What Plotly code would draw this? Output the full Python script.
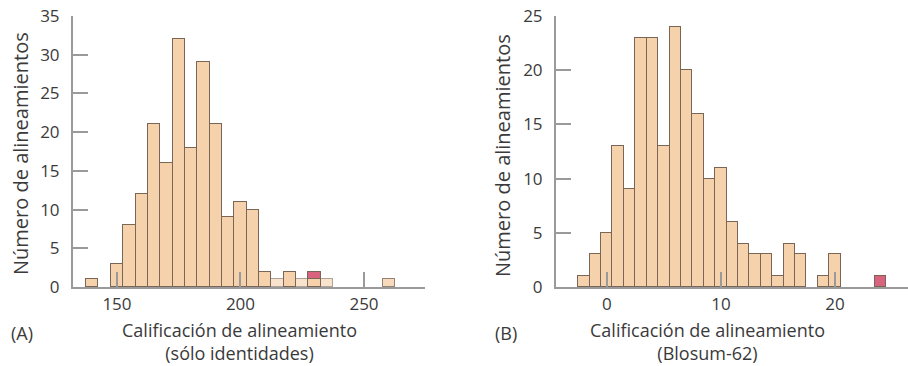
import plotly.graph_objects as go

# Panel A: alignment score (identities only), bin width 5
a_bins = [140, 150, 155, 160, 165, 170, 175, 180, 185, 190, 195, 200, 205, 210, 215, 220, 225, 230, 235, 260]
a_counts = [1, 3, 8, 12, 21, 16, 32, 18, 29, 21, 9, 11, 10, 2, 1, 2, 1, 1, 1, 1]
a_opacity = [1, 1, 1, 1, 1, 1, 1, 1, 1, 1, 1, 1, 1, 1, 0.6, 1, 0.6, 1, 0.6, 0.8]
a_real_bins = [230]
a_real_counts = [1]

# Panel B: alignment score (Blosum-62), bin width 1
b_bins = [-2, -1, 0, 1, 2, 3, 4, 5, 6, 7, 8, 9, 10, 11, 12, 13, 14, 15, 16, 17, 19, 20]
b_counts = [1, 3, 5, 13, 9, 23, 23, 13, 24, 20, 16, 10, 11, 6, 4, 3, 3, 1, 4, 3, 1, 3]
b_real_bins = [24]
b_real_counts = [1]

a_yticks = [0, 5, 10, 15, 20, 25, 30, 35]
a_xticks = [150, 200, 250]
b_yticks = [0, 5, 10, 15, 20, 25]
b_xticks = [0, 10, 20]

FILL = "#F6D2AC"
EDGE = "#7a6656"
PINK = "#D9637E"
AXIS = "#9a9a9a"
TXT = "#3a3a3a"
FONT = "Open Sans"
W, H = 908, 366

def px(x):
    return x / W

def py(y):
    return 1 - y / H

fig = go.Figure()
fig.add_trace(go.Bar(x=a_bins, y=a_counts, width=5, xaxis="x", yaxis="y",
                     marker=dict(color=FILL, opacity=a_opacity, line=dict(color=EDGE, width=1))))
fig.add_trace(go.Bar(x=a_real_bins, y=a_real_counts, width=5, xaxis="x", yaxis="y",
                     marker=dict(color=PINK, line=dict(color=EDGE, width=1))))
fig.add_trace(go.Bar(x=b_bins, y=b_counts, width=1, xaxis="x2", yaxis="y2",
                     marker=dict(color=FILL, line=dict(color=EDGE, width=1))))
fig.add_trace(go.Bar(x=b_real_bins, y=b_real_counts, width=1, xaxis="x2", yaxis="y2",
                     marker=dict(color=PINK, line=dict(color=EDGE, width=1))))

ydom = [py(287), py(16)]
common_axis = dict(showgrid=False, zeroline=False, showline=True, linecolor=AXIS, linewidth=2,
                   ticks="inside", ticklen=15, tickwidth=2, tickcolor=AXIS, automargin=False,
                   tickfont=dict(family=FONT, size=17, color=TXT))

fig.update_layout(
    width=W, height=H, margin=dict(l=0, r=0, t=0, b=0, pad=0),
    paper_bgcolor="white", plot_bgcolor="white",
    showlegend=False, barmode="stack", bargap=0,
    xaxis=dict(domain=[px(73), px(425)], range=[132.2, 274.7], tickvals=a_xticks,
               anchor="y", ticklabelstandoff=1, **common_axis),
    yaxis=dict(domain=ydom, range=[0, 35], tickvals=a_yticks, anchor="x",
               ticklabelstandoff=8, **common_axis),
    xaxis2=dict(domain=[px(556), 1.0], range=[-4.45, 26.4], tickvals=b_xticks,
                anchor="y2", ticklabelstandoff=1, **common_axis),
    yaxis2=dict(domain=ydom, range=[0, 25], tickvals=b_yticks, anchor="x2",
                ticklabelstandoff=8, **common_axis),
)

def ann(text, x, y, size=19, angle=0, yanchor="middle"):
    fig.add_annotation(text=text, x=px(x), y=py(y), xref="paper", yref="paper",
                       showarrow=False, xanchor="center", yanchor=yanchor, textangle=angle,
                       borderpad=0, font=dict(family=FONT, size=size, color=TXT))

ann("Calificación de alineamiento<br>(sólo identidades)", 239, 366, size=18, yanchor="bottom")
ann("(A)", 22, 333, size=18)
ann("Número de alineamientos", 20, 154, size=20, angle=-90)

ann("Calificación de alineamiento<br>(Blosum-62)", 707, 366, size=18, yanchor="bottom")
ann("(B)", 506, 333, size=18)
ann("Número de alineamientos", 502, 155, size=20, angle=-90)

fig.write_html("out.html", config={"displayModeBar": False},
               post_script="document.body.style.margin='0px';document.body.style.overflow='hidden';")
